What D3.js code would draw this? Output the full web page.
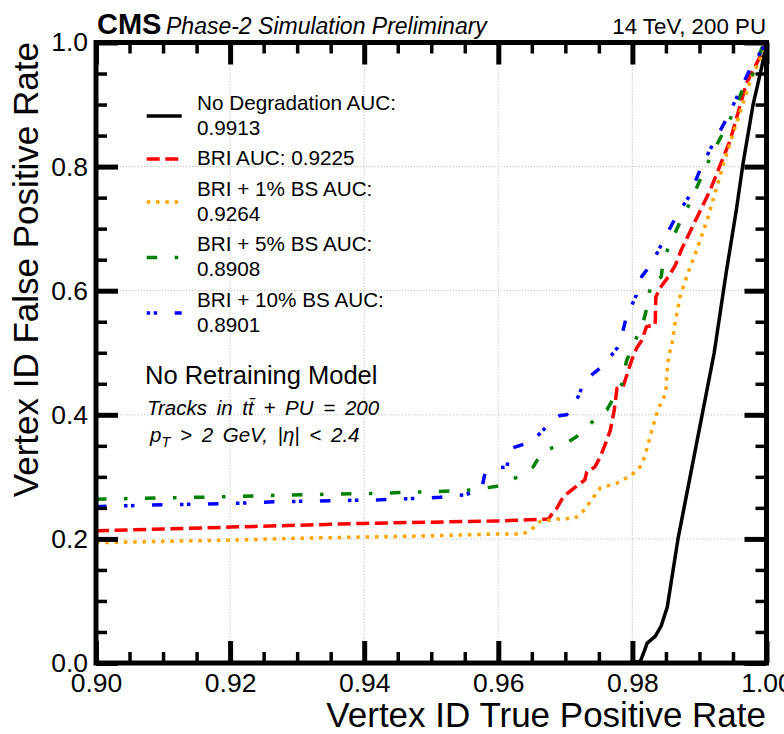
<!DOCTYPE html>
<html>
<head>
<meta charset="utf-8">
<script src="https://cdnjs.cloudflare.com/ajax/libs/d3/7.8.5/d3.min.js"></script>
<style>
  body { margin: 0; background: #fff; }
  svg text { font-family: "Liberation Sans", Arial, Helvetica, sans-serif; fill: #000; }
</style>
</head>
<body>
<script>
// ROC curves: [true positive rate, false positive rate]
var noDegradation = [[0.900,0.0],[0.9801,0.0],[0.9812,0.003],[0.9818,0.02],[0.9822,0.032],[0.9834,0.043],
  [0.9843,0.06],[0.9852,0.09],[0.9860,0.145],[0.9868,0.2],[0.9877,0.25],[0.9886,0.30],[0.9904,0.40],
  [0.9922,0.50],[0.9940,0.63],[0.9955,0.73],[0.9965,0.805],[0.9980,0.90],[0.9993,0.961],[1.0,1.0]];

var bri = [[0.900,0.213],[0.910,0.216],[0.920,0.219],[0.930,0.222],[0.940,0.225],[0.950,0.227],[0.960,0.229],
  [0.9675,0.232],[0.9680,0.240],[0.9687,0.249],[0.9697,0.268],[0.9712,0.281],[0.9729,0.295],[0.9732,0.308],
  [0.9744,0.316],[0.9752,0.332],[0.9759,0.351],[0.9767,0.375],[0.9773,0.408],[0.9777,0.443],[0.9786,0.445],
  [0.9799,0.488],[0.9806,0.507],[0.9814,0.520],[0.9821,0.542],[0.9834,0.545],[0.9835,0.590],[0.9841,0.604],
  [0.9854,0.623],[0.9864,0.641],[0.9873,0.666],[0.9916,0.762],[0.9946,0.843],[0.9970,0.934],[0.9988,0.972],[1.0,1.0]];

var bri1 = [[0.900,0.194],[0.910,0.196],[0.920,0.198],[0.930,0.201],[0.940,0.203],[0.950,0.205],[0.960,0.208],
  [0.9637,0.208],[0.9650,0.2155],[0.9662,0.228],[0.9687,0.232],[0.9714,0.233],[0.9729,0.247],[0.9739,0.263],
  [0.9752,0.282],[0.9777,0.290],[0.9799,0.303],[0.9814,0.319],[0.9821,0.343],[0.9834,0.394],[0.9840,0.413],
  [0.9850,0.435],[0.9851,0.461],[0.9854,0.494],[0.9859,0.515],[0.9864,0.550],[0.9871,0.590],[0.9881,0.623],
  [0.9896,0.666],[0.9913,0.719],[0.9936,0.805],[0.9960,0.886],[0.9978,0.945],[0.9990,0.972],[1.0,1.0]];

var bri5 = [[0.900,0.264],[0.910,0.266],[0.920,0.268],[0.9274,0.2705],[0.940,0.273],[0.950,0.276],[0.9563,0.279],
  [0.9598,0.285],[0.9625,0.298],[0.9635,0.303],[0.9652,0.316],[0.9667,0.343],[0.9697,0.351],[0.9717,0.365],
  [0.9737,0.385],[0.9752,0.402],[0.9762,0.408],[0.9772,0.427],[0.9785,0.451],[0.9791,0.486],[0.9802,0.515],
  [0.9815,0.545],[0.9824,0.582],[0.9827,0.615],[0.9843,0.622],[0.9846,0.650],[0.9871,0.711],[0.9888,0.746],
  [0.9903,0.784],[0.9918,0.819],[0.9936,0.856],[0.9951,0.888],[0.9965,0.926],[0.9980,0.950],[0.9993,0.991],[1.0,1.0]];

var bri10 = [[0.900,0.252],[0.910,0.255],[0.920,0.257],[0.9274,0.260],[0.9424,0.263],[0.9513,0.267],[0.9550,0.271],
  [0.9575,0.280],[0.9580,0.305],[0.9603,0.315],[0.9613,0.316],[0.9617,0.345],[0.9650,0.357],[0.9672,0.381],
  [0.9692,0.399],[0.9702,0.400],[0.9717,0.424],[0.9729,0.455],[0.9757,0.480],[0.9777,0.507],[0.9782,0.518],
  [0.9791,0.558],[0.9806,0.593],[0.9814,0.623],[0.9829,0.644],[0.9844,0.676],[0.9864,0.717],[0.9884,0.751],
  [0.9901,0.795],[0.9918,0.832],[0.9941,0.878],[0.9955,0.910],[0.9975,0.956],[0.9993,0.988],[1.0,1.0]];

// legend labels (one array of lines per curve)
var labels = [["No Degradation AUC:", "0.9913"], ["BRI AUC: 0.9225"], ["BRI + 1% BS AUC:", "0.9264"],
  ["BRI + 5% BS AUC:", "0.8908"], ["BRI + 10% BS AUC:", "0.8901"]];

// tick labels
var xTicks = [0.90, 0.92, 0.94, 0.96, 0.98, 1.00];
var xTickLabels = ["0.90", "0.92", "0.94", "0.96", "0.98", "1.00"];
var yTicks = [0.0, 0.2, 0.4, 0.6, 0.8, 1.0];
var yTickLabels = ["0.0", "0.2", "0.4", "0.6", "0.8", "1.0"];

// styles per curve
var curves = [
  {data: noDegradation, color: "#000000", dash: null, legendOffset: 0},
  {data: bri, color: "#ff0000", dash: "13,5.6", legendOffset: 0},
  {data: bri1, color: "#ffa500", dash: "3.5,5.8", legendOffset: 0},
  {data: bri5, color: "#008000", dash: "10.5,17.5,3.5,17.5", legendOffset: 0},
  {data: bri10, color: "#0000ff", dash: "10.5,17.5,3.5,3.5,3.5,17.5", legendOffset: 28}
];

var W = 784, H = 734;
var margin = {top: 42.5, right: 17.5, bottom: 71, left: 96};
var width = W - margin.left - margin.right;
var height = H - margin.top - margin.bottom;

var svg = d3.select("body").append("svg")
  .attr("width", W).attr("height", H);

var g = svg.append("g")
  .attr("transform", "translate(" + margin.left + "," + margin.top + ")");

var x = d3.scaleLinear().domain([0.9, 1.0]).range([0, width]);
var y = d3.scaleLinear().domain([0, 1]).range([height, 0]);

// minor ticks
var xMinor = d3.range(0, 21).map(function(i){ return 0.9 + i * 0.005; })
  .filter(function(d, i){ return i % 4 != 0; });
var yMinor = d3.range(0, 21).map(function(i){ return i * 0.05; })
  .filter(function(d, i){ return i % 4 != 0; });

// grid
var grid = g.append("g").attr("class", "grid");
grid.selectAll(".gx").data(xTicks.slice(1, -1)).enter().append("line")
  .attr("x1", function(d){ return x(d); }).attr("x2", function(d){ return x(d); })
  .attr("y1", 0).attr("y2", height);
grid.selectAll(".gy").data(yTicks.slice(1, -1)).enter().append("line")
  .attr("y1", function(d){ return y(d); }).attr("y2", function(d){ return y(d); })
  .attr("x1", 0).attr("x2", width);
grid.selectAll("line").attr("stroke", "#bdbdbd").attr("stroke-width", 1).attr("stroke-dasharray", "1.2,1.8");

// curves
svg.append("defs").append("clipPath").attr("id", "clip")
  .append("rect").attr("width", width).attr("height", height);

var line = d3.line()
  .x(function(d){ return x(d[0]); })
  .y(function(d){ return y(d[1]); });

var plot = g.append("g").attr("clip-path", "url(#clip)");
curves.forEach(function(c){
  plot.append("path")
    .attr("d", line(c.data))
    .attr("fill", "none")
    .attr("stroke", c.color)
    .attr("stroke-width", 3.5)
    .attr("stroke-linejoin", "round")
    .attr("stroke-linecap", "butt")
    .attr("stroke-dasharray", c.dash);
});

// axes (ticks pointing inward)
function styleAxis(sel, w) {
  sel.select(".domain").remove();
  sel.selectAll(".tick line").attr("stroke", "#000").attr("stroke-width", w);
  sel.selectAll(".tick text").attr("font-size", 26.5).attr("fill", "#000");
}
var majorLen = 22, minorLen = 11;

g.append("g").attr("transform", "translate(0," + height + ")")
  .call(d3.axisBottom(x).tickValues(xTicks).tickSize(-majorLen).tickPadding(10)
    .tickFormat(function(d, i){ return xTickLabels[i]; }))
  .call(styleAxis, 5);
g.append("g").attr("transform", "translate(0," + height + ")")
  .call(d3.axisBottom(x).tickValues(xMinor).tickSize(-minorLen).tickFormat(""))
  .call(styleAxis, 3.5);
g.append("g")
  .call(d3.axisTop(x).tickValues(xTicks).tickSize(-majorLen).tickFormat(""))
  .call(styleAxis, 5);
g.append("g")
  .call(d3.axisTop(x).tickValues(xMinor).tickSize(-minorLen).tickFormat(""))
  .call(styleAxis, 3.5);

g.append("g")
  .call(d3.axisLeft(y).tickValues(yTicks).tickSize(-majorLen).tickPadding(8)
    .tickFormat(function(d, i){ return yTickLabels[i]; }))
  .call(styleAxis, 5);
g.append("g")
  .call(d3.axisLeft(y).tickValues(yMinor).tickSize(-minorLen).tickFormat(""))
  .call(styleAxis, 3.5);
g.append("g").attr("transform", "translate(" + width + ",0)")
  .call(d3.axisRight(y).tickValues(yTicks).tickSize(-majorLen).tickFormat(""))
  .call(styleAxis, 5);
g.append("g").attr("transform", "translate(" + width + ",0)")
  .call(d3.axisRight(y).tickValues(yMinor).tickSize(-minorLen).tickFormat(""))
  .call(styleAxis, 3.5);

// frame
g.append("rect").attr("width", width).attr("height", height)
  .attr("fill", "none").attr("stroke", "#000").attr("stroke-width", 5);

// axis titles
svg.append("text").attr("x", 766).attr("y", 727).attr("text-anchor", "end")
  .attr("font-size", 35).text("Vertex ID True Positive Rate");
svg.append("text").attr("transform", "translate(38,42) rotate(-90)").attr("text-anchor", "end")
  .attr("font-size", 35).text("Vertex ID False Positive Rate");

// header
svg.append("text").attr("x", 97).attr("y", 34).attr("font-size", 29).attr("font-weight", "bold").text("CMS");
svg.append("text").attr("x", 166).attr("y", 34).attr("font-size", 23).attr("font-style", "italic")
  .text("Phase-2 Simulation Preliminary");
svg.append("text").attr("x", 766).attr("y", 34).attr("font-size", 22.3).attr("text-anchor", "end")
  .text("14 TeV, 200 PU");

// legend
var legend = svg.append("g");
var base = 109.5, lineH = 25;
curves.forEach(function(c, i){
  var lines = labels[i];
  var mid = base + (lines.length - 1) * lineH / 2 - 6;
  legend.append("line").attr("x1", 146.7).attr("x2", 181.7).attr("y1", mid).attr("y2", mid)
    .attr("stroke", c.color).attr("stroke-width", 3.5).attr("stroke-dasharray", c.dash)
    .attr("stroke-dashoffset", c.legendOffset);
  lines.forEach(function(t, j){
    legend.append("text").attr("x", 197).attr("y", base + j * lineH)
      .attr("font-size", 20.7).text(t);
  });
  base += (lines.length - 1) * lineH + 30.5;
});

// annotation
svg.append("text").attr("x", 145).attr("y", 384).attr("font-size", 25.5).text("No Retraining Model");
svg.append("text").attr("x", 147).attr("y", 415).attr("font-size", 20.5).attr("font-style", "italic")
  .attr("word-spacing", 4).text("Tracks in tt\u0304 + PU = 200");
var pt = svg.append("text").attr("x", 150).attr("y", 442).attr("font-size", 20.5)
  .attr("font-style", "italic").attr("word-spacing", 4);
pt.append("tspan").text("p");
pt.append("tspan").attr("font-size", 14.5).attr("dy", 5).text("T");
pt.append("tspan").attr("dy", -5).text(" > 2 GeV, |\u03b7| < 2.4");
</script>
</body>
</html>
